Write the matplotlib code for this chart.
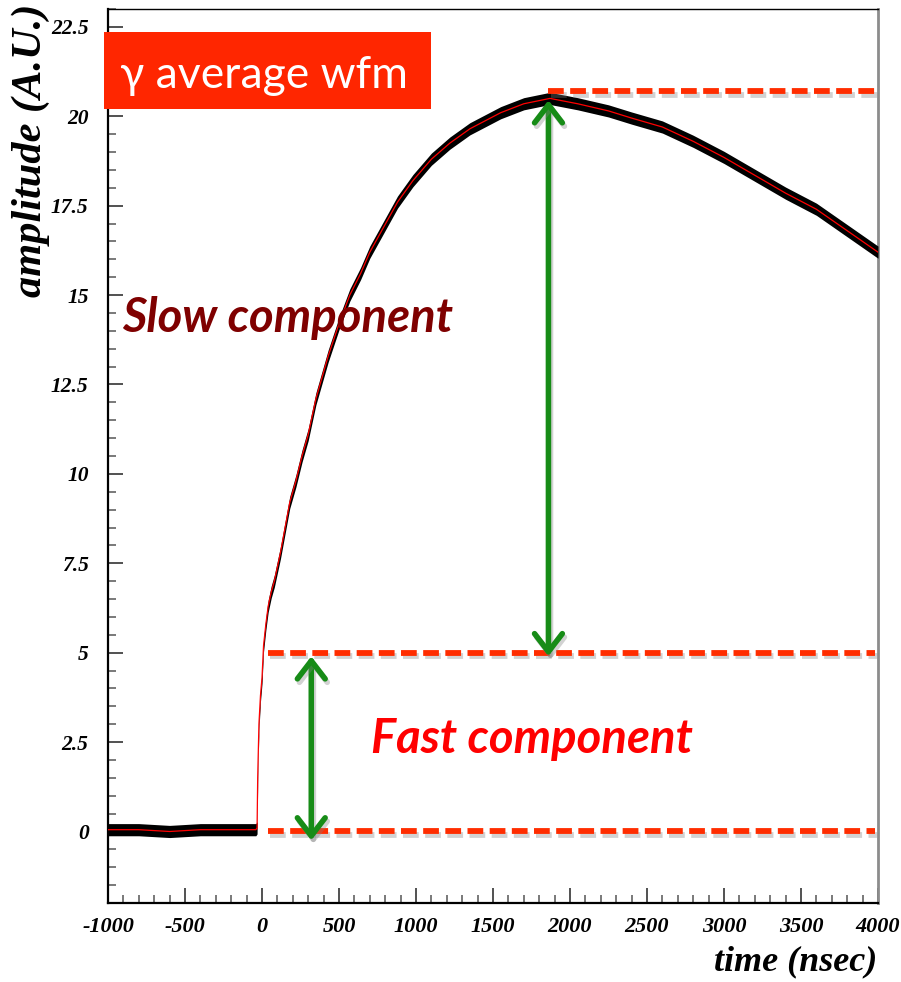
import numpy as np
import matplotlib
matplotlib.use("Agg")
import matplotlib.pyplot as plt
import matplotlib.patheffects as pe
from matplotlib.patches import Rectangle
from matplotlib.ticker import MultipleLocator

# averaged gamma waveform (time in ns, amplitude in A.U.)
time_ns = [-1000, -800, -600, -400, -200, -40, -32, -28, -20, -10, 0, 10, 25, 40,
           60, 80, 120, 150, 180, 220, 260, 300, 350, 430, 500, 570, 640, 700,
           790, 880, 980, 1100, 1220, 1350, 1550, 1700, 1870, 2050, 2250, 2400,
           2600, 2800, 3000, 3200, 3400, 3600, 3800, 4000]
amplitude = [0.05, 0.05, 0.0, 0.05, 0.05, 0.05, 0.1, 1.5, 3.0, 3.8, 4.3, 5.2, 5.8, 6.3,
             6.7, 7.0, 7.8, 8.5, 9.2, 9.8, 10.5, 11.1, 12.1, 13.3, 14.2, 15.0, 15.6, 16.2,
             16.9, 17.6, 18.2, 18.8, 19.25, 19.65, 20.1, 20.35, 20.5, 20.35, 20.15, 19.95,
             19.7, 19.3, 18.85, 18.35, 17.85, 17.4, 16.8, 16.2]

# reference levels (dashed lines) and arrows
level_names = ["baseline", "fast", "peak"]
level_values = [0.0, 5.0, 20.7]
level_start = [40, 40, 1860]
level_end = 3980
arrow_x = [1860, 320]
arrow_top = [20.45, 4.9]
arrow_bottom = [4.9, -0.25]

xticks = list(range(-1000, 4001, 500))
yticks = [0, 2.5, 5, 7.5, 10, 12.5, 15, 17.5, 20, 22.5]
ytick_labels = ["0", "2.5", "5", "7.5", "10", "12.5", "15", "17.5", "20", "22.5"]

serif_bi = dict(family="Liberation Serif", weight="bold", style="italic")

fig = plt.figure(figsize=(9.01, 9.82), dpi=100)
ax = fig.add_axes([108 / 901, 79 / 982, 770 / 901, 894 / 982])

t = np.array(time_ns, dtype=float)
a = np.array(amplitude, dtype=float)
band = 0.17
ax.fill_between(t, a - band, a + band, color="black", lw=0, zorder=3)
ax.plot(t, a, color="red", lw=0.9, zorder=4)

shadow = [pe.SimpleLineShadow(offset=(1.5, -2.5), shadow_color="gray", alpha=0.35),
          pe.Normal()]

for v, x0 in zip(level_values, level_start):
    ln, = ax.plot([x0, level_end], [v, v], color="#ff2d00", lw=4.2,
                  solid_capstyle="butt", zorder=5)
    ln.set_dashes([2.7, 1.1])
    ln.set_dash_capstyle("butt")
    ln.set_path_effects(shadow)

for x, top, bot in zip(arrow_x, arrow_top, arrow_bottom):
    ax.annotate("", xy=(x, top), xytext=(x, bot),
                arrowprops=dict(arrowstyle="<->,head_length=0.65,head_width=0.5",
                                color="#178c17", lw=4.0, mutation_scale=20,
                                shrinkA=0, shrinkB=0,
                                path_effects=shadow),
                zorder=6)

ax.set_xlim(-1000, 4000)
ax.set_ylim(-2, 23)
ax.set_xticks(xticks)
ax.set_xticklabels([str(v) for v in xticks], fontdict=serif_bi, fontsize=16)
ax.set_yticks(yticks)
ax.set_yticklabels(ytick_labels, fontdict=serif_bi, fontsize=15.5)
ax.xaxis.set_minor_locator(MultipleLocator(100))
ax.yaxis.set_minor_locator(MultipleLocator(0.5))
ax.tick_params(which="both", direction="in", top=False, right=False, width=1.1)
ax.tick_params(which="major", length=11, color="#222222")
ax.tick_params(which="minor", length=6, color="#555555")
ax.tick_params(axis="y", pad=14)
ax.tick_params(axis="x", pad=10)

for s in ["left", "bottom"]:
    ax.spines[s].set_linewidth(1.6)
ax.spines["top"].set_linewidth(1.0)
ax.spines["right"].set_color("#8c8c8c")
ax.spines["right"].set_linewidth(2.0)

# axis titles, ROOT style (right / top aligned)
fig.text(877 / 901, 12 / 982, "time (nsec)", fontsize=26, ha="right",
         va="baseline", **serif_bi)
fig.text(31 / 901, (982 - 4) / 982, "amplitude (A.U.)", fontsize=30.5,
         rotation=90, ha="center", va="top", **serif_bi)

# annotation texts
ax.text(0.2331, 0.6387, "Slow component", transform=ax.transAxes, color="#7f0000",
        fontsize=34, family="Lato", weight="bold", style="italic",
        ha="center", va="baseline", zorder=7)
ax.text(0.55, 0.1678, "Fast component", transform=ax.transAxes, color="#ff0000",
        fontsize=34, family="Lato", weight="bold", style="italic",
        ha="center", va="baseline", zorder=7)

fig.patches.append(Rectangle((104 / 901, (982 - 109) / 982), 327 / 901, 77 / 982,
                             transform=fig.transFigure, facecolor="#ff2600",
                             edgecolor="none", zorder=8))
fig.text(0.2925, (982 - 88) / 982, "γ average wfm", color="white", fontsize=32,
         family=["Lato", "Open Sans", "DejaVu Sans"], ha="center", va="baseline",
         zorder=9)

fig.savefig("out.png", dpi=100)
